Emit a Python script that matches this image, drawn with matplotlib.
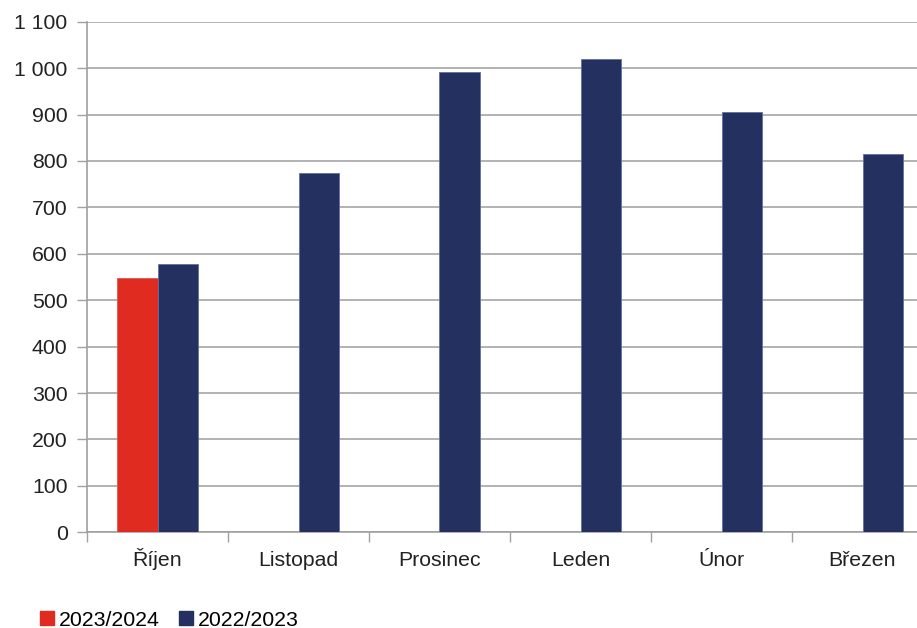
import matplotlib
matplotlib.use("Agg")
import matplotlib.pyplot as plt
import numpy as np
from matplotlib.patches import Patch

plt.rcParams['font.family'] = ['Liberation Sans', 'DejaVu Sans']

categories = ["Říjen", "Listopad", "Prosinec", "Leden", "Únor", "Březen"]
series_2023_24 = [548, None, None, None, None, None]
series_2022_23 = [577, 773, 991, 1019, 905, 814]
yticks = [0, 100, 200, 300, 400, 500, 600, 700, 800, 900, 1000, 1100]
ytick_labels = ["0", "100", "200", "300", "400", "500", "600", "700", "800", "900", "1 000", "1 100"]

red = "#E02B20"
navy = "#243060"
fs = 15.3

W, H = 917, 628
fig = plt.figure(figsize=(W / 100, H / 100), dpi=100)
left, right, top, bottom = 87, 933, 21.7, 532.3
ax = fig.add_axes([left / W, 1 - bottom / H, (right - left) / W, (bottom - top) / H])

x = np.arange(len(categories))
bw = 0.286
r_x = [xi - bw / 2 for xi, v in zip(x, series_2023_24) if v is not None]
r_h = [v for v in series_2023_24 if v is not None]
ax.bar(r_x, r_h, width=bw, color=red, edgecolor="#E05550", linewidth=0.6, zorder=3)
ax.bar(x + bw / 2, series_2022_23, width=bw, color=navy, edgecolor="#6070A0", linewidth=0.6, zorder=3)

ax.set_xlim(-0.5, len(categories) - 0.5)
ax.set_ylim(0, 1100)
ax.set_yticks(yticks)
ax.set_yticklabels(ytick_labels)
ax.yaxis.grid(True, color="#A6A6A6", linewidth=1.2, zorder=0)
ax.set_axisbelow(True)

ax.set_xticks(x)
ax.set_xticklabels(categories)
for lab in ax.get_xticklabels():
    lab.set_verticalalignment('baseline')
ax.set_xticks(np.arange(len(categories) + 1) - 0.5, minor=True)
ax.tick_params(axis='x', which='major', length=0, pad=24, labelsize=fs, colors="#222222")
ax.tick_params(axis='x', which='minor', length=7, width=1, color="#A0A0A0")
ax.tick_params(axis='y', length=7, width=1, color="#A0A0A0", pad=7, labelsize=fs, labelcolor="#222222")

for s in ["top", "right"]:
    ax.spines[s].set_visible(False)
for s in ["left", "bottom"]:
    ax.spines[s].set_color("#A0A0A0")
    ax.spines[s].set_linewidth(1.2)

handles = [Patch(facecolor=red, edgecolor=red, label="2023/2024"),
           Patch(facecolor=navy, edgecolor=navy, label="2022/2023")]
fig.legend(handles=handles, loc="center left", bbox_to_anchor=(40 / W, 1 - 620 / H),
           ncol=2, frameon=False, fontsize=fs, handlelength=0.65, handleheight=0.65,
           handletextpad=0.25, columnspacing=0.9, borderaxespad=0, borderpad=0)

fig.savefig("out.png", dpi=100)
